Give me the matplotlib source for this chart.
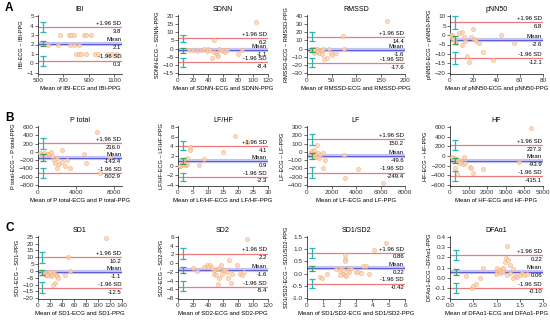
import numpy as np
import matplotlib
matplotlib.use("Agg")
import matplotlib.pyplot as plt
import matplotlib.transforms as mtransforms

plt.rcParams['font.family'] = ['Liberation Sans', 'DejaVu Sans']
plt.rcParams['font.size'] = 4.5

# ---------------- data ----------------
names = ["IBI", "SDNN", "RMSSD", "pNN50",
         "P total", "LF/HF", "LF", "HF",
         "SD1", "SD2", "SD1/SD2", "DFAα1"]

# limits of agreement (upper, mean, lower) and their labels
upper = [3.8, 6.2, 14.4, 6.8, 216.0, 4.1, 150.2, 227.3, 10.2, 2.2, 0.86, 0.22]
mean = [2.1, -1.1, -1.6, -2.6, -143.4, 0.9, -49.6, -93.9, -1.1, -1.6, 0.22, 0.06]
lower = [0.3, -8.4, -17.6, -12.1, -502.9, -2.3, -249.4, -415.1, -12.5, -5.4, -0.42, -0.10]
upper_txt = ["3.8", "6.2", "14.4", "6.8", "216.0", "4.1", "150.2", "227.3", "10.2", "2.2", "0.86", "0.22"]
mean_txt = ["2.1", "-1.1", "-1.6", "-2.6", "-143.4", "0.9", "-49.6", "-93.9", "-1.1", "-1.6", "0.22", "0.06"]
lower_txt = ["0.3", "-8.4", "-17.6", "-12.1", "-502.9", "-2.3", "-249.4", "-415.1", "-12.5", "-5.4", "-0.42", "-0.10"]

# confidence intervals (lo, hi) for upper LoA, mean, lower LoA
ci_upper = [(3.3, 4.4), (4.0, 8.5), (9, 20), (3, 10), (80, 340), (3.2, 5.2),
            (80, 220), (130, 330), (6, 14), (1.0, 3.4), (0.65, 1.05), (0.17, 0.27)]
ci_mean = [(1.8, 2.4), (-2.5, 0.5), (-4, 1), (-4.5, -0.5), (-230, -60), (0.4, 1.6),
           (-90, -10), (-150, -40), (-3, 1), (-2.2, -0.8), (0.12, 0.33), (0.03, 0.09)]
ci_lower = [(-0.3, 0.8), (-11, -6), (-23, -12), (-15.5, -9), (-620, -380), (-3.2, -1.5),
            (-310, -180), (-520, -310), (-16, -8), (-6.5, -4.2), (-0.62, -0.22), (-0.15, -0.05)]
ci_x = [540, 6, 10, 4, 500, 1.5, 400, 250, 7, 6, 0.3, 0.12]

# scatter points (mean, difference)
px = [
    [670, 740, 760, 780, 860, 880, 920, 580, 660, 750, 780, 820,
     800, 820, 840, 880, 950, 970, 1050, 1080, 1120],
    [104, 48, 15, 20, 25, 30, 35, 38, 40, 42, 45, 48, 50, 52, 53, 55, 57, 60, 62, 65, 80, 85],
    [163, 73, 10, 12, 15, 18, 20, 22, 25, 28, 30, 33, 35, 40, 45, 48, 50, 60, 75, 20, 15, 30],
    [0, 1, 2, 3, 4, 5, 8, 10, 13, 15, 16, 18, 20, 21, 22, 25, 28, 37, 44, 55, 10, 12],
    [6200, 2500, 200, 400, 600, 800, 1000, 1200, 1500, 1700, 1800, 2000, 2200, 2500,
     2800, 3000, 3300, 4800, 5000, 6500, 7500, 1400, 2000],
    [19, 23, 4, 4, 3, 15, 8.5, 7, 0.5, 1, 1.5, 2, 2.5, 1, 0.8, 2.2, 1.8, 3],
    [300, 400, 500, 600, 700, 800, 900, 1000, 1100, 1300, 1500, 1300, 3000, 3100,
     4200, 6200, 800, 600],
    [4350, 3700, 100, 200, 300, 400, 500, 600, 700, 750, 800, 1050, 1150, 1250,
     1800, 250, 350, 500],
    [113, 50, 53, 8, 10, 12, 14, 16, 18, 20, 22, 24, 26, 28, 30, 32, 34, 25, 45, 15, 20],
    [92, 68, 20, 25, 35, 38, 42, 40, 48, 50, 52, 53, 54, 55, 57, 58, 60, 62, 65, 67,
     70, 72, 78, 82, 85, 88, 48, 45],
    [4.85, 4.1, 2.3, 2.3, 2.3, 0.8, 0.9, 1.2, 1.8, 2.0, 2.1, 2.2, 2.3, 2.4, 2.5, 2.6,
     2.7, 3.0, 3.1, 3.3, 3.4, 3.6, 3.8, 2.2, 2.0],
    [1.22, 0.35, 0.47, 0.5, 0.55, 0.65, 0.7, 1.0, 1.02, 1.05, 1.08, 1.1, 1.12, 1.15,
     1.18, 1.2, 1.25, 1.28, 1.3, 1.22, 1.35, 1.4, 1.45, 1.5, 1.55, 1.6, 1.65, 1.35, 0.98, 1.15],
]
py = [
    [3, 3, 3, 3, 3, 3, 3, 2, 2, 2, 2, 2, 1, 1, 1, 1, 1, 1, 1, 1, 1],
    [16, 5.5, -1, -1, -1.5, -1, -0.5, -1.5, -0.5, -1, -6, -2, -3, -4, -4.5, 0, -1, -1.5, -2, -1, -3.5, -1],
    [34, 15, 0, -2, -5, -3, -1, -4, -6, -2, -3, -1, -13, -12, -1, -5, -8, -5, 0, -3, -1, -7],
    [0, -1, 0, -2, -3, -4, 1, 1.5, -3, -11, -14.5, -1, 3, -2, -3, -4, -9, -13, 0, -4, -5, -1],
    [470, 40, -30, -50, -20, -80, -60, -40, -100, -200, -280, -380, -300, -250,
     -350, -200, -400, -50, -270, -500, -120, -10, -150],
    [6.2, 5.0, 3.8, 3.2, 1.6, 2.9, 1.3, 0.2, 0, 0.2, 0.3, 0.5, 0.1, 0.1, 0, 0.2, 0.4, 0.3],
    [0, 10, -20, -50, -30, -60, -10, -70, -40, -10, -100, -200, -40, -320,
     -210, -370, 80, 20],
    [580, -120, -20, -40, -60, -100, -80, -120, -160, -30, -140, -230, -250, -350,
     -280, -250, -380, -150],
    [24, 10.5, 0, -1, -2, -1.5, -3, -2, -0.5, -3, -4, -2, -1, -9, -3, -4, -5, -10, -3, -3, -1],
    [5.6, 0.8, -1, -1.8, -0.8, -0.5, -0.5, -0.8, -2.5, -2.8, -1.3, -4.8, -3.5, -1, -0.5,
     -2.5, -1.5, -1.5, -2, -3.5, -4.5, -2.5, -0.5, -2.5, -2.8, -2, -1.5, -1.2],
    [1.25, 0.97, 0.75, 0.6, 0.5, -0.15, -0.2, 0, 0.2, 0.1, 0.25, 0, -0.05, -0.1, 0.15,
     0.05, 0.25, 0.05, 0.05, 0.02, 0.3, 0.3, 0, 0.15, -0.05],
    [0.31, 0.02, -0.1, -0.08, -0.06, 0.0, 0.1, 0.1, 0.06, 0.08, 0.05, 0.07, 0.09, 0.06,
     0.15, 0.19, 0.17, 0.12, 0.05, 0.03, 0.0, 0.02, 0.01, 0.03, 0.05, 0.03, 0.04, 0.09, 0.04, 0.1],
]

xlims = [(500, 1160), (0, 120), (0, 200), (0, 80), (0, 8800), (0, 30), (0, 8000), (0, 5000),
         (0, 140), (0, 120), (0, 6), (0, 2)]
xticks = [[500, 700, 900, 1100], [0, 20, 40, 60, 80, 100, 120], [0, 50, 100, 150, 200],
          [0, 20, 40, 60, 80], [0, 4000, 8000], [0, 5, 10, 15, 20, 25, 30],
          [0, 2000, 4000, 6000, 8000], [0, 1000, 2000, 3000, 4000, 5000],
          [0, 20, 40, 60, 80, 100, 120, 140], [0, 20, 40, 60, 80, 100, 120],
          [0, 1, 2, 3, 4, 5, 6], [0, 0.5, 1.0, 1.5, 2.0]]
xticklabels = [None] * 11 + [["0.0", "0.5", "1.0", "1.5", "2.0"]]
yticks = [np.arange(-1, 6, 1), np.arange(-15, 21, 5), np.arange(-30, 41, 10),
          np.arange(-20, 11, 5), np.arange(-800, 601, 200), np.arange(-4, 9, 2),
          np.arange(-400, 301, 100), np.arange(-600, 601, 200), np.arange(-20, 26, 5),
          np.arange(-8, 7, 2), [-1.0, -0.5, 0.0, 0.5, 1.0, 1.5], [-0.2, -0.1, 0.0, 0.1, 0.2, 0.3, 0.4]]
yticklabels = [None] * 10 + [["-1.0", "-0.5", "0.0", "0.5", "1.0", "1.5"],
                             ["-0.2", "-0.1", "0.0", "0.1", "0.2", "0.3", "0.4"]]

# ---------------- figure ----------------
W, H = 550, 326
fig = plt.figure(figsize=(W / 100, H / 100), dpi=100)

cols = [(38, 122), (178, 268), (307, 405), (450, 543)]
rows = [(15, 74), (126, 186), (236, 299)]

red = "#ee7b7b"
blue = "#5a5ad8"
band = "#c4c4f2"
teal = "#2ab7b2"
green = "#3aa55a"
orange = "#f5a66b"

for i, name in enumerate(names):
    r, c = divmod(i, 4)
    x0, x1 = cols[c]
    y0, y1 = rows[r]
    ax = fig.add_axes([x0 / W, 1 - y1 / H, (x1 - x0) / W, (y1 - y0) / H])

    ax.scatter(px[i], py[i], s=9, facecolor="#fbd3b3", edgecolor=orange,
               linewidth=0.4, alpha=0.8, zorder=3)
    ax.axhline(upper[i], color=red, lw=0.9, zorder=2)
    ax.axhline(lower[i], color=red, lw=0.9, zorder=2)
    ax.axhline(mean[i], color=band, lw=3, zorder=1)
    ax.axhline(mean[i], color=blue, lw=0.7, zorder=2)

    for ci, col in [(ci_upper[i], teal), (ci_mean[i], green), (ci_lower[i], teal)]:
        mid = (ci[0] + ci[1]) / 2
        ax.errorbar(ci_x[i], mid, yerr=(ci[1] - ci[0]) / 2, color=col, lw=0.9,
                    capsize=2.2, capthick=0.9, zorder=4)

    trans = mtransforms.blended_transform_factory(ax.transAxes, ax.transData)
    for val, top, bot in [(upper[i], "+1.96 SD", upper_txt[i]),
                          (mean[i], "Mean", mean_txt[i]),
                          (lower[i], "-1.96 SD", lower_txt[i])]:
        ax.annotate(top, xy=(0.99, val), xycoords=trans, xytext=(0, 0.8),
                    textcoords="offset points", ha="right", va="bottom", fontsize=4.3)
        ax.annotate(bot, xy=(0.99, val), xycoords=trans, xytext=(0, -1.2),
                    textcoords="offset points", ha="right", va="top", fontsize=4.3)

    step = yticks[i][1] - yticks[i][0]
    ax.set_xlim(*xlims[i])
    ax.set_ylim(yticks[i][0] - 0.12 * step, yticks[i][-1] + 0.12 * step)
    ax.set_xticks(xticks[i])
    if xticklabels[i]:
        ax.set_xticklabels(xticklabels[i])
    ax.set_yticks(yticks[i])
    if yticklabels[i]:
        ax.set_yticklabels(yticklabels[i])
    for s in ["top", "right"]:
        ax.spines[s].set_visible(False)
    for s in ["left", "bottom"]:
        ax.spines[s].set_linewidth(0.6)
        ax.spines[s].set_color("#333333")
    ax.tick_params(labelsize=4.6, length=2, width=0.5, pad=1, colors="#333333")
    ax.set_title(name, fontsize=5, pad=3)
    sep = " –" if name == "DFAα1" else " – "
    ax.set_ylabel(f"{name}-ECG{sep}{name}-PPG", fontsize=4.1, labelpad=2)
    ax.set_xlabel(f"Mean of {name}-ECG and {name}-PPG", fontsize=4.3, labelpad=2)

for lab, y in [("A", 8), ("B", 118), ("C", 228)]:
    fig.text(5 / W, 1 - y / H, lab, fontsize=8.5, fontweight="bold", va="center", ha="left")

fig.savefig("out.png", dpi=100)
